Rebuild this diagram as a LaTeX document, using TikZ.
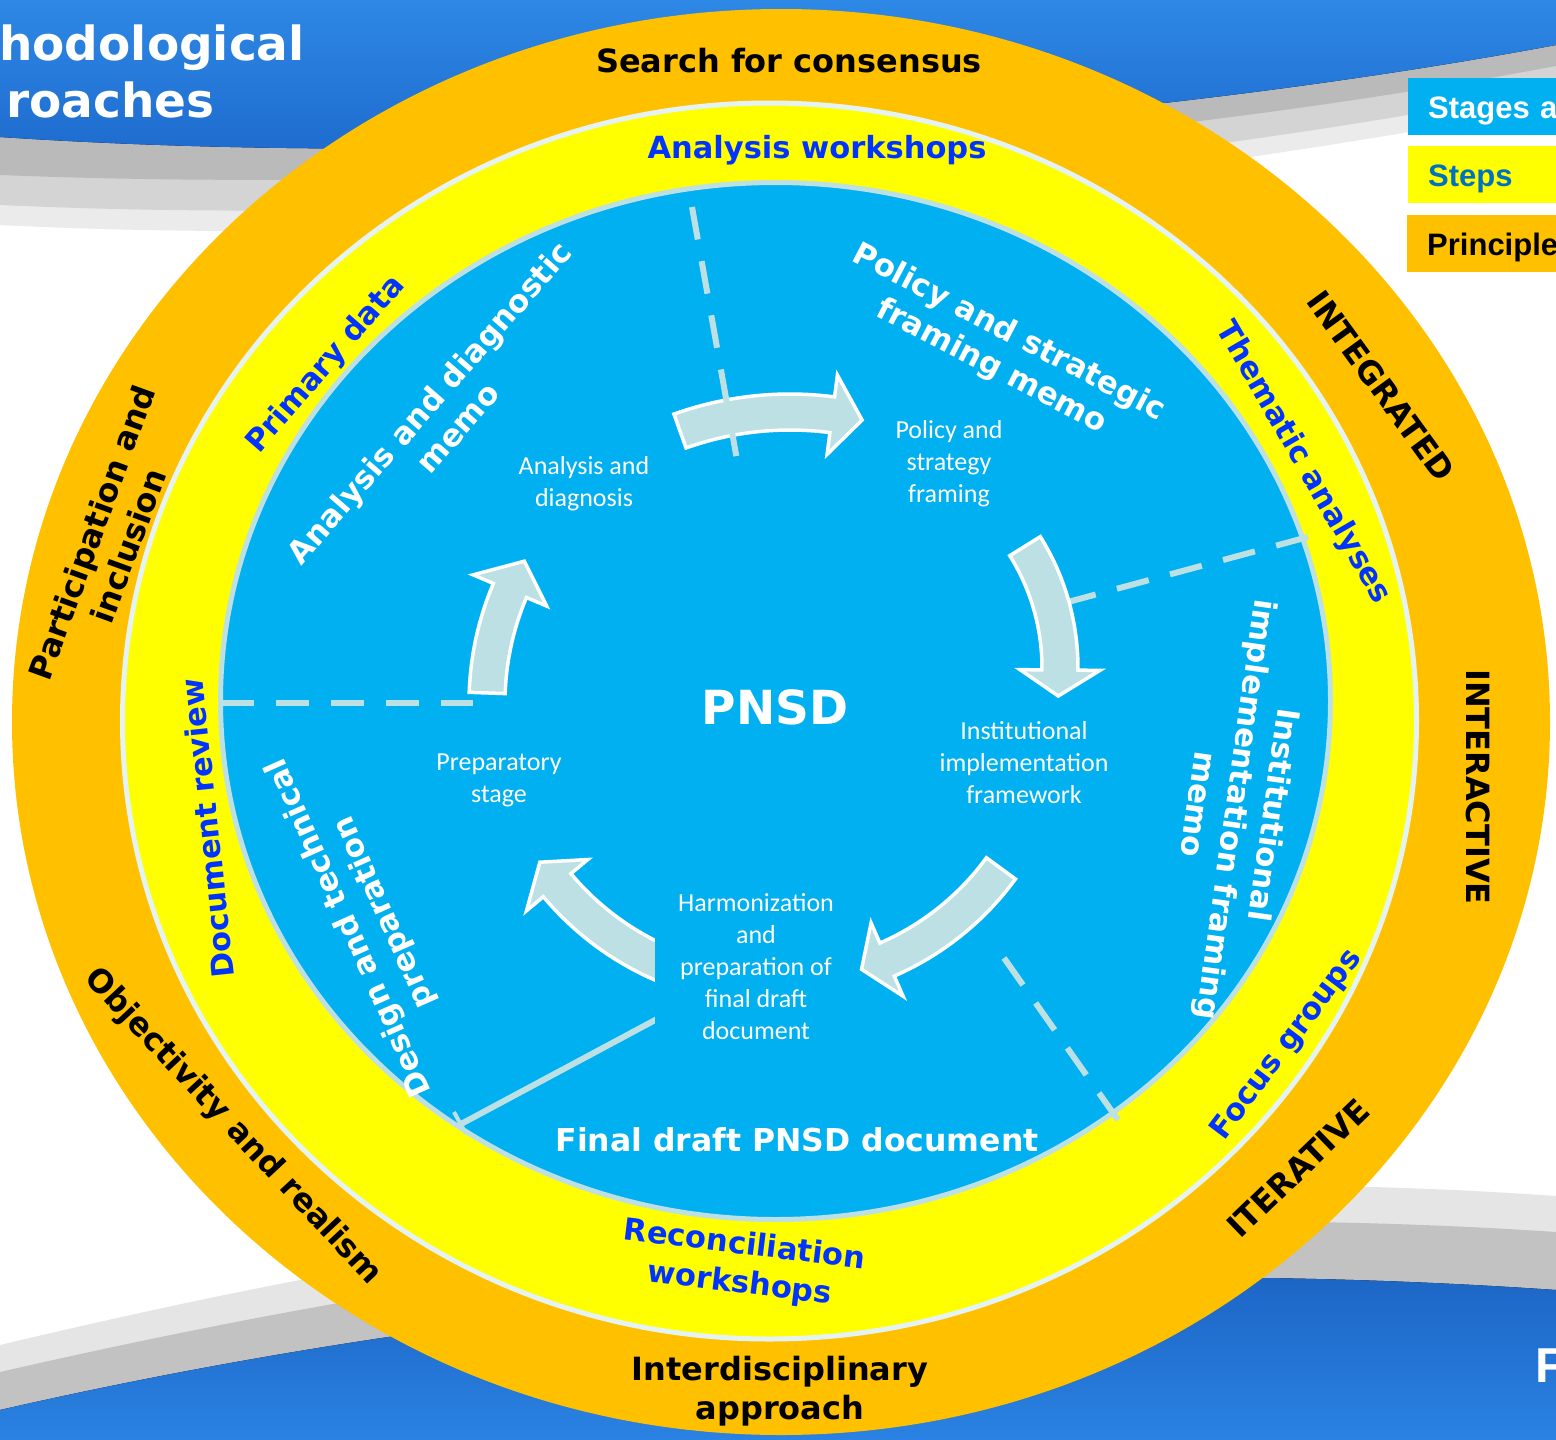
\documentclass[tikz,border=0pt]{standalone}
\usepackage{fontspec}
\newfontfamily\dvs{DejaVu Sans}
\newfontfamily\carl{Carlito}
\newfontfamily\lib{Liberation Sans}
\definecolor{orangering}{HTML}{FFC000}
\definecolor{yellowring}{HTML}{FFFF00}
\definecolor{innerblue}{HTML}{00B0F0}
\definecolor{arrowfill}{HTML}{BCE0E4}
\definecolor{stepblue}{RGB}{0,51,255}
\definecolor{legendblue}{HTML}{0070C0}
\definecolor{ringedge}{HTML}{E6F3F3}
\definecolor{bgtoplight}{RGB}{46,136,229}
\definecolor{bgtopdark}{RGB}{28,104,204}
\definecolor{bgbotdark}{RGB}{26,96,192}
\definecolor{bgbotlight}{RGB}{42,130,226}
\newcommand{\cyclearrow}[6]{%
  \path[arrowshape] plot[variable=\t, domain=#4:#5, samples=30] ({#1+(#3+18)*cos(\t)},{#2+(#3+18)*sin(\t)})
   -- ({#1+(#3+40)*cos(#5)},{#2+(#3+40)*sin(#5)})
   -- ({#1+#3*cos(#6)},{#2+#3*sin(#6)})
   -- ({#1+(#3-40)*cos(#5)},{#2+(#3-40)*sin(#5)})
   -- plot[variable=\t, domain=#5:#4, samples=30] ({#1+(#3-18)*cos(\t)},{#2+(#3-18)*sin(\t)})
   -- cycle;}
\begin{document}
\begin{tikzpicture}[x=1pt,y=-1pt,
  ringtxt/.style={font=\dvs\bfseries\fontsize{32}{39}\selectfont, text=black, align=center, inner sep=0pt},
  steptxt/.style={font=\dvs\bfseries\fontsize{30.5}{39}\selectfont, text=stepblue, align=center, inner sep=0pt},
  memotxt/.style={font=\dvs\bfseries\fontsize{31}{38}\selectfont, text=white, align=center, inner sep=0pt},
  pnsdtxt/.style={font=\dvs\bfseries\fontsize{47}{56}\selectfont, text=white, inner sep=0pt},
  stagetxt/.style={font=\carl\fontsize{26}{32}\selectfont, text=white, align=center, inner sep=0pt},
  divider/.style={draw=arrowfill, line width=6pt, dash pattern=on 33pt off 22pt},
  solidline/.style={draw=arrowfill, line width=6pt},
  arrowshape/.style={fill=arrowfill, draw=white, line width=3.5pt, line join=miter},
  legendbox/.style={anchor=north west, minimum width=170pt, minimum height=57pt, text width=140pt, align=left, inner xsep=20pt, inner ysep=0pt, text height=23pt, text depth=0pt, font=\lib\bfseries\fontsize{31}{36}\selectfont},
  titletxt/.style={font=\dvs\bfseries\fontsize{47}{56}\selectfont, text=white, inner sep=0pt, anchor=base west}
]
\useasboundingbox (0,0) rectangle (1556,1440);
\clip (0,0) rectangle (1556,1440);
% background
\fill[white] (0,0) rectangle (1556,1440);
\fill[black!8] (0,0) -- (1556,0) -- (1556,105) .. controls (1100,195) and (500,250) .. (0,225) -- cycle;
\fill[black!17] (0,0) -- (1556,0) -- (1556,88) .. controls (1100,178) and (500,228) .. (0,205) -- cycle;
\fill[black!27] (0,0) -- (1556,0) -- (1556,66) .. controls (1100,152) and (500,195) .. (0,175) -- cycle;
\fill[top color=bgtoplight, bottom color=bgtopdark] (0,0) -- (1556,0) -- (1556,45) .. controls (1100,130) and (500,170) .. (0,137) -- cycle;
\fill[black!10] (0,1440) -- (0,1345) .. controls (350,1262) and (900,1150) .. (1556,1196) -- (1556,1440) -- cycle;
\fill[black!24] (0,1440) -- (0,1372) .. controls (350,1292) and (900,1188) .. (1556,1232) -- (1556,1440) -- cycle;
\fill[top color=bgbotdark, bottom color=bgbotlight] (0,1440) -- (0,1410) .. controls (350,1330) and (900,1245) .. (1556,1290) -- (1556,1440) -- cycle;
% title and footer fragments
\node[titletxt] (title1) at (-1,60) {hodological};
\node[titletxt] (title2) at (6,117) {roaches};
\node[font=\lib\bfseries\fontsize{49}{56}\selectfont, text=white, inner sep=0pt, anchor=base west] (footF) at (1535,1382) {F};
% legend
\node[legendbox, fill=innerblue, text=white] (lgstages) at (1408,78) {Stages a};
\node[legendbox, fill=yellowring, text=legendblue] (lgsteps) at (1408,146) {Steps};
\node[legendbox, fill=orangering, text=black] (lgprinc) at (1407,215) {Principle};
% rings
\fill[orangering] (781,722) ellipse [x radius=769, y radius=713];
\filldraw[fill=yellowring, draw=ringedge, line width=5pt] (769.5,721) ellipse [x radius=647, y radius=618];
\filldraw[fill=innerblue, draw=arrowfill, line width=5pt] (775.5,701) ellipse [x radius=555, y radius=518.5];
% dividers
\coordinate (dl1) at (221,703); \coordinate (dl2) at (473,703);
\coordinate (dr1) at (1308,537); \coordinate (dr2) at (1068,602);
\coordinate (db1) at (1004,958); \coordinate (db2) at (1118,1120);
\coordinate (dt1) at (692,207); \coordinate (dt2) at (737,460);
\coordinate (ds1) at (700,996); \coordinate (ds2) at (461,1124);
\draw[divider] (dl1) -- (dl2);
\draw[divider] (dr1) -- (dr2);
\draw[divider] (db1) -- (db2);
\draw[solidline] (ds1) -- (ds2);
\draw[draw=arrowfill, line width=4pt] (454,1112) -- (466,1134);
% cycle arrows
\cyclearrow{775}{703}{288}{182}{203}{209.5}
\cyclearrow{790}{740}{328}{250.4}{277.4}{282.7}
\cyclearrow{830}{668}{230}{328}{360.5}{367}
\cyclearrow{775}{703}{280}{36.2}{66.4}{72}
\cyclearrow{775}{703}{284}{100}{140.1}{145.9}
\draw[divider] (dt1) -- (dt2);
% principles (orange ring)
\node[ringtxt] (consensus) at (789,61) {Search for consensus};
\node[ringtxt, rotate=-54] (integrated) at (1381,386) {INTEGRATED};
\node[ringtxt, rotate=-90] (interactive) at (1478,787) {INTERACTIVE};
\node[ringtxt, rotate=44] (iterative) at (1298,1168) {ITERATIVE};
\node[ringtxt] (interdisc) at (780,1391) {Interdisciplinary\\approach};
\node[ringtxt, rotate=-47] (objectivity) at (233,1127) {Objectivity and realism};
\node[ringtxt, rotate=70] (participation) at (110,539) {Participation and\\inclusion};
% steps (yellow ring)
\node[steptxt] (aw) at (817,150) {Analysis workshops};
\node[steptxt, rotate=-60] (ta) at (1303,463) {Thematic analyses};
\node[steptxt, rotate=53] (fg) at (1287,1045) {Focus groups};
\node[steptxt, rotate=-7] (rw) at (742,1265) {Reconciliation\\workshops};
\node[steptxt, rotate=96] (dr) at (207,828) {Document review};
\node[steptxt, rotate=49] (pd) at (326,365) {Primary data};
% outputs (inner)
\node[memotxt, rotate=49] (adm) at (443,415) {Analysis and diagnostic\\memo};
\node[memotxt, rotate=-27.5] (psm) at (1000,350) {Policy and strategic\\framing memo};
\node[memotxt, rotate=-98] (iim) at (1237,810) {Institutional\\implementation framing\\memo};
\node[memotxt, rotate=114] (dtp) at (367,920) {Design and technical\\preparation};
\node[memotxt, font=\dvs\bfseries\fontsize{31.5}{38}\selectfont] (fdd) at (797,1140) {Final draft PNSD document};
\node[pnsdtxt] (pnsd) at (775,707) {PNSD};
% stages
\node[stagetxt] (ad) at (584,484) {Analysis and\\diagnosis};
\node[stagetxt] (ps) at (949,464) {Policy and\\strategy\\framing};
\node[stagetxt] (iif) at (1024,763) {Institutional\\implementation\\framework};
\node[stagetxt] (pst) at (499,780) {Preparatory\\stage};
\node[stagetxt, fill=innerblue, minimum width=202pt, minimum height=175pt] (harm) at (756,967) {Harmonization\\and\\preparation of\\final draft\\document};
\end{tikzpicture}
\end{document}
